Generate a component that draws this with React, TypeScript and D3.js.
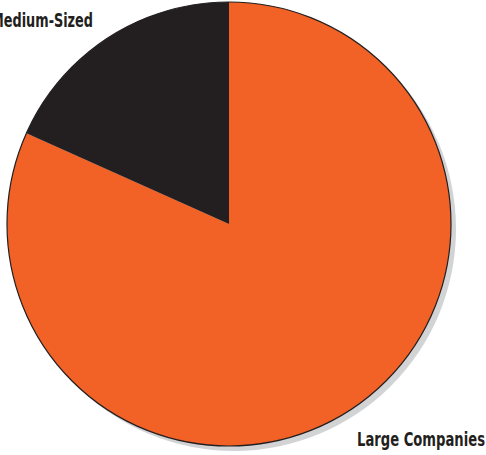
import React from "react";
import * as d3 from "d3";

const categories = ["Large Companies", "Medium-Sized"];
const values = [81.7, 18.3];
const colors = ["#f26125", "#231f20"];

export default function App() {
  const W = 486, H = 455;
  const cx = 229, cy = 224, r = 222;
  const pie = d3.pie<number>().sort(null).startAngle(0).endAngle(2 * Math.PI)(values);
  const arc = d3.arc<d3.PieArcDatum<number>>().innerRadius(0).outerRadius(r);
  const font = "'DejaVu Sans Condensed', 'Liberation Sans Narrow', sans-serif";
  return (
    <svg width={W} height={H} style={{ position: "absolute", left: 0, top: 0, background: "#fff" }}>
      <circle cx={cx + 5} cy={cy + 5} r={r} fill="#d1d3d4" />
      <g transform={`translate(${cx},${cy})`}>
        {pie.map((d, i) => (
          <path key={categories[i]} d={arc(d) || ""} fill={colors[i]} />
        ))}
        <circle r={r} fill="none" stroke="#231f20" strokeWidth={1.2} />
      </g>
      <text x={-9} y={27} fontFamily={font} fontWeight="bold" fontSize={19} fill="#231f20"
        textLength={102} lengthAdjust="spacingAndGlyphs">
        {categories[1]}
      </text>
      <text x={357} y={446} fontFamily={font} fontWeight="bold" fontSize={19} fill="#231f20"
        textLength={128} lengthAdjust="spacingAndGlyphs">
        {categories[0]}
      </text>
    </svg>
  );
}
